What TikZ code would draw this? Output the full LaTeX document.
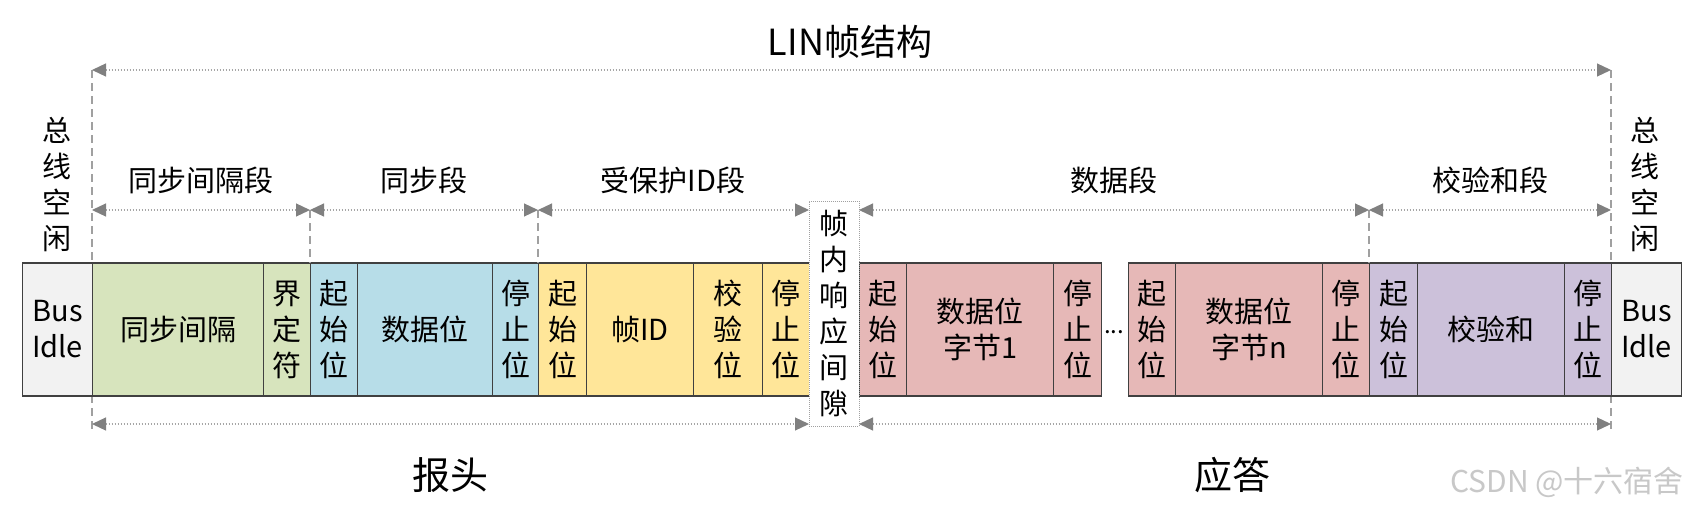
\documentclass[tikz,border=0pt]{standalone}
\usepackage{fontspec}
\setmainfont{Noto Sans CJK SC}
\usetikzlibrary{arrows.meta}
\definecolor{cgray}{HTML}{F2F2F2}
\definecolor{cgreen}{HTML}{D7E4BD}
\definecolor{cblue}{HTML}{B7DDE8}
\definecolor{cyellow}{HTML}{FFE699}
\definecolor{cred}{HTML}{E6B8B7}
\definecolor{cpurple}{HTML}{CCC1DA}
\definecolor{cline}{HTML}{404040}
\definecolor{arrline}{HTML}{A6A6A6}
\definecolor{arrtip}{HTML}{808080}
\definecolor{vline}{HTML}{A0A0A0}
\definecolor{wmark}{HTML}{C8C8C8}
\newcommand\fsbox{\fontsize{29}{36}\selectfont}
\newcommand\lincell[5]{\node[cell, fill=#4, minimum width={(#3-#2)*1pt}, anchor=west] (#1) at (#2,329.5) {#5};}
\tikzset{
  cell/.style={draw=cline, line width=1.3pt, inner sep=0pt, minimum height=133pt, align=center, font=\fsbox},
  dimarrow/.style={draw=arrline, line width=1.2pt, dash pattern=on 1.5pt off 1.5pt,
    {Triangle[length=14pt,width=13pt,fill=arrtip,color=arrtip]}-{Triangle[length=14pt,width=13pt,fill=arrtip,color=arrtip]}},
  vdash/.style={draw=vline, line width=1.5pt, dash pattern=on 8pt off 5pt},
  lbl/.style={inner sep=0pt, font=\fontsize{29}{36}\selectfont, align=center},
}
\begin{document}
\begin{tikzpicture}[x=1pt,y=-1pt]
\useasboundingbox[fill=white] (0,0) rectangle (1698,514);

% coordinates for dimension lines
\coordinate (T0) at (92,70);
\coordinate (T1) at (1611,70);
\coordinate (L0) at (92,432);
\coordinate (L1) at (1611,432);
\coordinate (a0) at (92,210);
\coordinate (a1) at (310,210);
\coordinate (a2) at (538,210);
\coordinate (a3) at (809,210);
\coordinate (a4) at (859,210);
\coordinate (a5) at (1369,210);
\coordinate (a6) at (1611,210);
\coordinate (b0) at (92,424);
\coordinate (b1) at (809,424);
\coordinate (b2) at (859,424);
\coordinate (b3) at (1611,424);

% long dashed verticals (behind cells)
\draw[vdash] (T0) -- (L0);
\draw[vdash] (T1) -- (L1);

% cells
\lincell{busL}{22}{92}{cgray}{Bus\\Idle}
\lincell{brk}{92}{263}{cgreen}{同步间隔}
\lincell{del}{263}{310}{cgreen}{界\\定\\符}
\lincell{s1}{310}{357}{cblue}{起\\始\\位}
\lincell{d1}{357}{492}{cblue}{数据位}
\lincell{p1}{492}{538}{cblue}{停\\止\\位}
\lincell{s2}{538}{586}{cyellow}{起\\始\\位}
\lincell{fid}{586}{693}{cyellow}{帧ID}
\lincell{par}{693}{762}{cyellow}{校\\验\\位}
\lincell{p2}{762}{809}{cyellow}{停\\止\\位}
\lincell{s3}{859}{906}{cred}{起\\始\\位}
\lincell{d3}{906}{1053}{cred}{数据位\\字节1}
\lincell{p3}{1053}{1101}{cred}{停\\止\\位}
\lincell{s4}{1128}{1175}{cred}{起\\始\\位}
\lincell{d4}{1175}{1322}{cred}{数据位\\字节n}
\lincell{p4}{1322}{1369}{cred}{停\\止\\位}
\lincell{s5}{1369}{1417}{cpurple}{起\\始\\位}
\lincell{cs}{1417}{1564}{cpurple}{校验和}
\lincell{p5}{1564}{1611}{cpurple}{停\\止\\位}
\lincell{busR}{1611}{1681}{cgray}{Bus\\Idle}

\node[inner sep=0pt, font=\fontsize{24}{24}\selectfont] (dots) at (1114,332) {...};

% inter-frame response gap
\node[draw=vline, line width=0.8pt, dash pattern=on 1pt off 1pt, fill=white, inner sep=0pt,
  minimum width=50pt, minimum height=225pt, align=center, font=\fsbox] (gap) at (834,313.5)
  {帧\\内\\响\\应\\间\\隙};

% short dashed dividers
\draw[vdash] (a1) -- (s1.north west);
\draw[vdash] (a2) -- (s2.north west);
\draw[vdash] (a5) -- (s5.north west);

% dimension arrows
\draw[dimarrow] (T0) -- (T1);
\draw[dimarrow] (a0) -- (a1);
\draw[dimarrow] (a1) -- (a2);
\draw[dimarrow] (a2) -- (a3);
\draw[dimarrow] (a4) -- (a5);
\draw[dimarrow] (a5) -- (a6);
\draw[dimarrow] (b0) -- (b1);
\draw[dimarrow] (b2) -- (b3);

% labels
\node[inner sep=0pt, font=\fontsize{36}{40}\selectfont] (title) at (850,42) {LIN帧结构};
\node[lbl] (idleL) at (57,184) {总\\线\\空\\闲};
\node[lbl] (idleR) at (1645,184) {总\\线\\空\\闲};
\node[lbl] (lbrk) at (201,180) {同步间隔段};
\node[lbl] (lsync) at (424,180) {同步段};
\node[lbl] (lpid) at (673,180) {受保护ID段};
\node[lbl] (ldata) at (1114,180) {数据段};
\node[lbl] (lcs) at (1490,180) {校验和段};
\node[inner sep=0pt, font=\fontsize{38}{40}\selectfont] (hdr) at (450,475) {报头};
\node[inner sep=0pt, font=\fontsize{38}{40}\selectfont] (resp) at (1232,475) {应答};
\node[inner sep=0pt, text=wmark, font=\fontsize{30}{32}\selectfont] (wm) at (1567,482) {CSDN @十六宿舍};
\end{tikzpicture}
\end{document}
